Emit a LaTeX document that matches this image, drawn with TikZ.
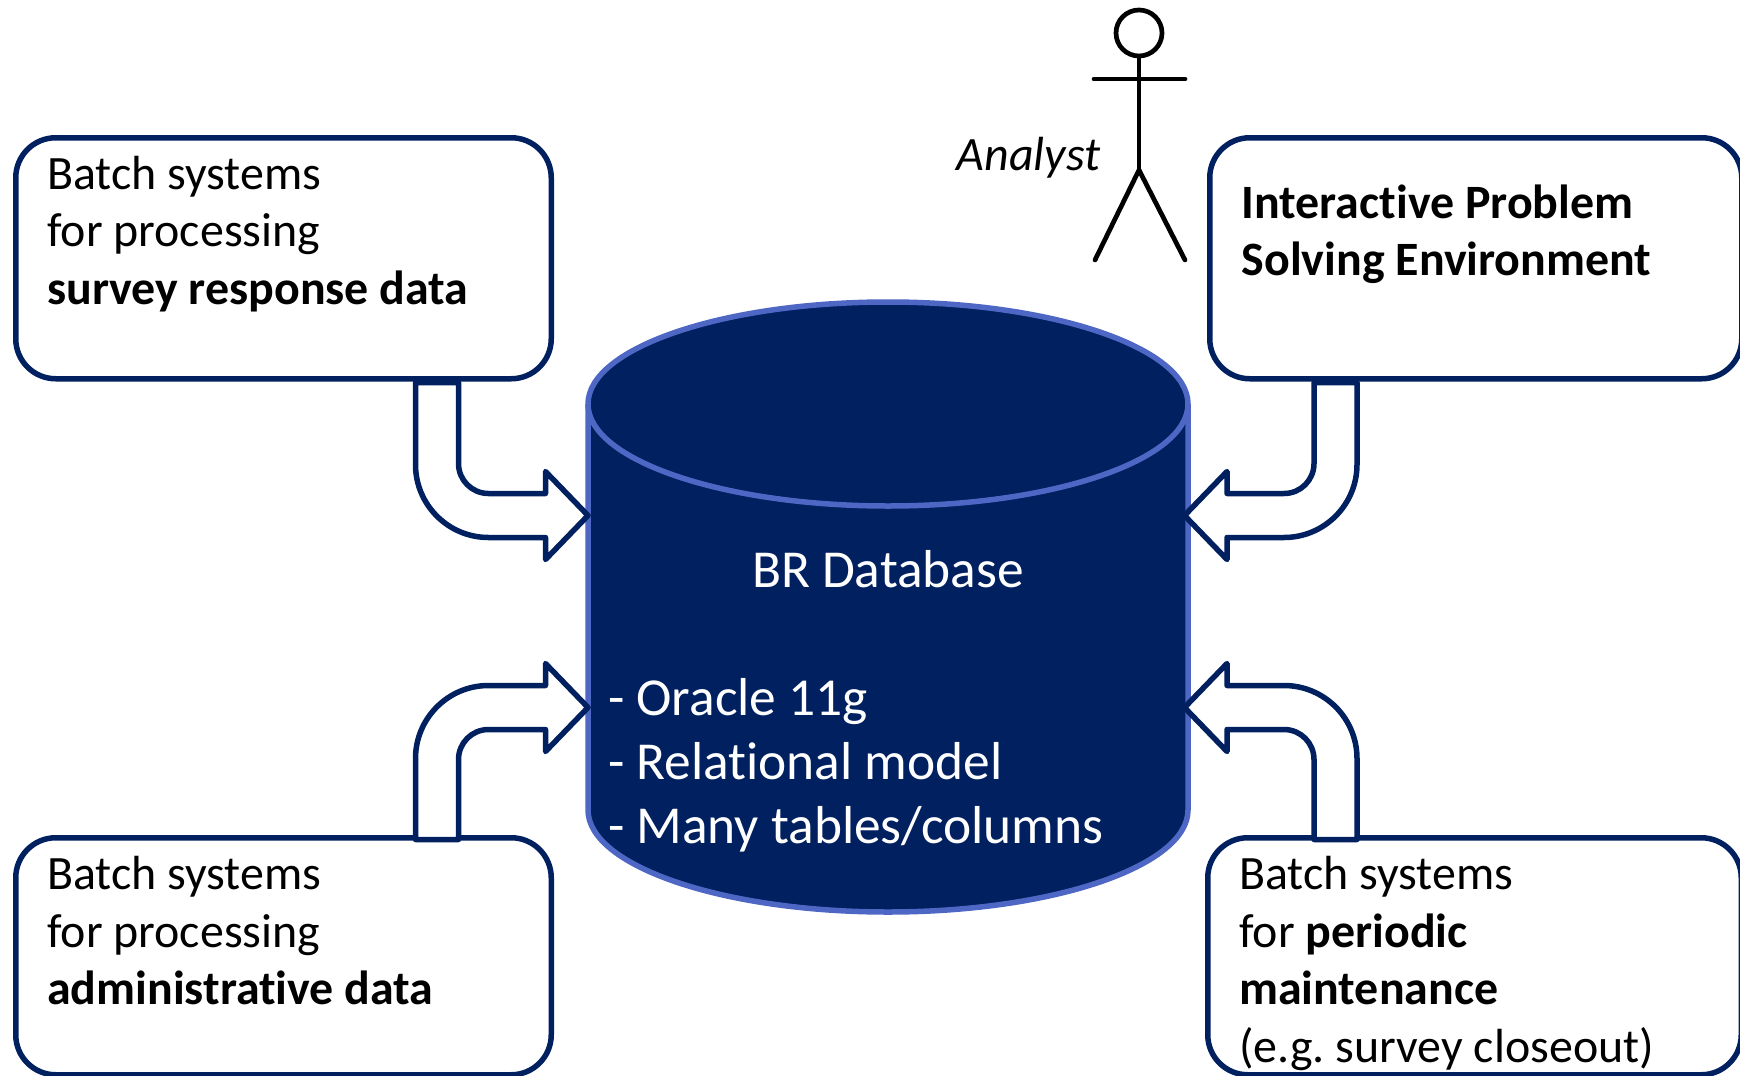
\documentclass[tikz,border=0pt]{standalone}
\usepackage{fontspec}
\setmainfont{Carlito}[Ligatures=NoCommon]
\frenchspacing
\definecolor{navy}{HTML}{002060}
\definecolor{rim}{HTML}{4F67C4}
\newcommand{\boxtxt}[4]{\parbox[c][#2pt][t]{#1pt}{\vspace*{#3pt}\fontsize{47.9}{57.6}\selectfont #4}}
\newcommand{\blockarrow}[6]{%
 \begin{scope}[shift={(#1,#2)},xscale=#3,yscale=#4]
 \coordinate (#5) at (0,0);
 \draw[barrow] (#5) -- (-42.5,-44) -- (-42.5,-22) -- (-99.5,-22)
  .. controls (-116.1,-22) and (-129.5,-35.4) .. (-129.5,-52) -- (-129.5,-#6) -- (-172.5,-#6) -- (-172.5,-51)
  .. controls (-172.5,-10.7) and (-139.8,22) .. (-99.5,22) -- (-42.5,22) -- (-42.5,44) -- cycle;
 \end{scope}}
\tikzset{
 x=1pt,y=-1pt,
 boxnode/.style={draw=navy,line width=5.5pt,rounded corners=40pt,fill=white,inner ysep=0pt,inner xsep=0pt,anchor=north west,align=left},
 barrow/.style={draw=navy,line width=5.5pt,line join=round,fill=white},
 figure/.style={draw=black,line width=4.7pt,line cap=round},
 dbtxt/.style={text=white,font=\fontsize{53.4}{64}\selectfont,inner sep=0pt},
}
\begin{document}
\begin{tikzpicture}
\useasboundingbox (0,0) rectangle (1740,1076);
% boxes
\node[boxnode] (b1) at (13,135) {\hspace{31.5pt}\boxtxt{504}{241}{18}{Batch systems\\for processing\\\textbf{survey response data}}};
\node[boxnode] (b2) at (1207,135) {\hspace{32pt}\boxtxt{500}{241}{47}{\textbf{Interactive Problem}\\\textbf{Solving Environment}}};
\node[boxnode] (b3) at (13,835) {\hspace{31.5pt}\boxtxt{504}{237}{18.5}{Batch systems\\for processing\\\textbf{administrative data}}};
\node[boxnode] (b4) at (1205,835) {\hspace{31.5pt}\boxtxt{502}{237}{18.5}{Batch systems\\for \textbf{periodic}\\\textbf{maintenance}\\(e.g. survey closeout)}};
% cylinder
\draw[fill=navy,draw=rim,line width=5.5pt] (588,404) -- (588,810)
  .. controls (588,866) and (723,912) .. (888,912)
  .. controls (1053,912) and (1188,866) .. (1188,810) -- (1188,404)
  .. controls (1188,348) and (1053,302) .. (888,302)
  .. controls (723,302) and (588,348) .. (588,404) -- cycle;
\draw[draw=rim,line width=5.5pt] (588,404)
  .. controls (588,460) and (723,506) .. (888,506)
  .. controls (1053,506) and (1188,460) .. (1188,404);
\node[dbtxt,anchor=base] (title) at (888,587) {BR Database};
\node[dbtxt,anchor=base west] (l1) at (608,715) {- Oracle 11g};
\node[dbtxt,anchor=base west] (l2) at (608,779) {- Relational model};
\node[dbtxt,anchor=base west] (l3) at (608,843) {- Many tables/columns};
% block arrows
\blockarrow{588}{515.5}{1}{1}{a1}{133}
\blockarrow{1184.5}{515.5}{-1}{1}{a2}{133}
\blockarrow{588}{707.5}{1}{-1}{a3}{132}
\blockarrow{1184.5}{707.5}{-1}{-1}{a4}{132}
% analyst
\coordinate (hip) at (1139,170);
\node[draw=black,line width=4.7pt,circle,minimum size=46pt,inner sep=0pt] (head) at (1139,33) {};
\draw[figure] (head.south) -- (hip);
\coordinate (armL) at (1094,79);
\coordinate (armR) at (1185,79);
\coordinate (legL) at (1095,260);
\coordinate (legR) at (1185,260);
\draw[figure] (armL) -- (armR);
\draw[figure] (legL) -- (hip) -- (legR);
\node[anchor=base west,inner sep=0pt,font=\fontsize{47.9}{57}\selectfont\itshape] (an) at (956.5,170) {Analyst};
\end{tikzpicture}
\end{document}
